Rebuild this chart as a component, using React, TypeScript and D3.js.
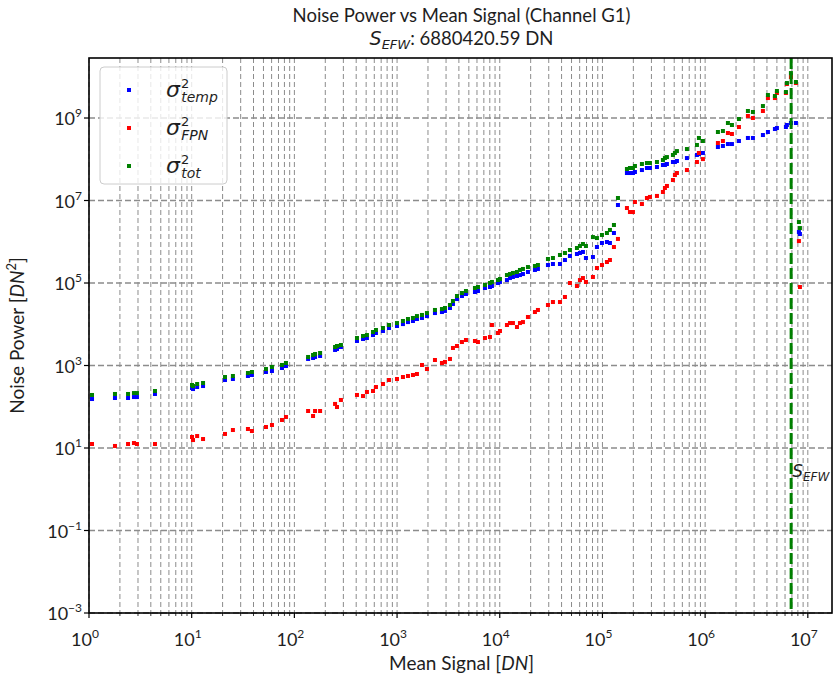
import React from "react";
import * as d3 from "d3";

// mean signal [DN]
const signal = [
  1.07, 1.79, 2.4, 2.74, 2.93, 4.39, 10.07, 10.3, 11.3, 12.9,
  21.1, 25.2, 35.3, 38.6, 52.9, 60.5, 75.7, 82.8, 136, 152,
  159, 178, 249, 260, 284, 407, 466, 509, 583, 623,
  729, 834, 998, 1141, 1277, 1428, 1562, 1748, 1955, 2339,
  2736, 2927, 3275, 3502, 3831, 4284, 4687, 5735, 6135, 7176,
  8027, 8395, 9605, 10045, 11750, 12570, 13440, 14710, 15730, 16820,
  18820, 22010, 23540, 29470, 32960, 38570, 43140, 48260, 56450, 60380,
  64580, 69070, 80800, 88400, 98900, 110600, 118300, 129400, 141600, 173200,
  185300, 198200, 207300, 242400, 271200, 290100, 339500, 388200, 406000, 424700,
  485800, 508100, 531400, 665000, 832300, 870300, 951900, 1.332e6, 1.49e6, 1.667e6,
  1.824e6, 2.134e6, 2.61e6, 2.92e6, 3.654e6, 4.088e6, 4.782e6, 5.002e6, 6.119e6, 6.258e6,
  6.847e6, 7.66e6, 8.19e6, 8.38e6,
];

// temporal noise power
const sigmaTemp = [
  154, 163, 163, 172, 172, 204, 285, 269, 301, 318,
  445, 471, 557, 589, 696, 736, 870, 973, 1440, 1520,
  1610, 1700, 2380, 2510, 2810, 3930, 4390, 4640, 5480, 6140,
  6860, 8110, 9070, 10100, 11300, 12000, 13400, 14200, 15800, 18700,
  19800, 21000, 24800, 31000, 40900, 48400, 54100, 60500, 64000, 75700,
  80000, 84600, 100000, 106000, 118000, 132000, 140000, 148000, 156000, 165000,
  185000, 207000, 219000, 273000, 289000, 289000, 361000, 452000, 505000, 534000,
  565000, 404000, 427000, 746000, 933000, 986000, 933000, 1.63e6, 7.78e6, 4.64e7,
  4.64e7, 4.64e7, 4.91e7, 5.48e7, 6.14e7, 6.14e7, 6.49e7, 7.26e7, 7.26e7, 7.67e7,
  8.58e7, 8.58e7, 9.07e7, 1.07e8, 1.27e8, 1.34e8, 1.42e8, 1.98e8, 2.1e8, 2.34e8,
  2.34e8, 2.77e8, 3.28e8, 3.28e8, 3.87e8, 4.58e8, 5.41e8, 5.72e8, 6.05e8, 6.77e8,
  7.57e8, 7.57e8, 1.72e6, 1.54e6,
];

// fixed pattern noise power
const sigmaFPN = [
  12.5, 11.2, 12.5, 13.2, 12.5, 12.5, 18.5, 15.6, 19.5, 16.5,
  21.9, 27.3, 28.9, 25.8, 32.3, 36.1, 47.8, 56.5, 78.9, 59.7,
  78.9, 78.9, 117, 98.6, 146, 193, 182, 228, 241, 301,
  356, 445, 471, 526, 557, 589, 622, 1030, 822, 1360,
  1150, 1220, 1440, 2660, 2970, 3710, 4150, 3930, 3710, 4640,
  4910, 9590, 6140, 6860, 9590, 10700, 10700, 8580, 10700, 11300,
  15000, 19800, 22200, 29300, 34600, 34600, 45800, 100000, 84600, 118000,
  132000, 106000, 140000, 231000, 273000, 323000, 361000, 746000, 1.17e6, 6.58e6,
  5.26e6, 5.26e6, 9.2e6, 8.22e6, 1.15e7, 1.22e7, 1.29e7, 1.61e7, 2.01e7, 2.25e7,
  3.14e7, 4.15e7, 4.64e7, 5.48e7, 8.58e7, 1.42e8, 1.01e8, 2.48e8, 2.77e8, 4.33e8,
  4.1e8, 6.05e8, 1.12e9, 1e9, 1.48e9, 3.05e9, 3.05e9, 4.04e9, 4.04e9, 6.67e9,
  9.86e9, 7.05e9, 1.04e6, 80000,
];

// total noise power
const sigmaTot = [
  193, 204, 204, 215, 215, 241, 337, 318, 356, 377,
  526, 557, 658, 696, 822, 920, 1030, 1150, 1610, 1800,
  1900, 2010, 2810, 2970, 3140, 4640, 5190, 5480, 6490, 7260,
  8110, 9590, 10700, 12000, 13400, 14200, 15800, 16800, 18700, 22200,
  23400, 24800, 29300, 36600, 48400, 57200, 64000, 75700, 80000, 89500,
  100000, 106000, 118000, 125000, 156000, 165000, 175000, 185000, 207000, 219000,
  244000, 258000, 273000, 382000, 404000, 478000, 534000, 631000, 706000, 789000,
  883000, 789000, 1.3e6, 1.23e6, 1.46e6, 1.63e6, 1.93e6, 2.55e6, 1.15e7, 5.8e7,
  6.14e7, 6.14e7, 6.86e7, 7.67e7, 8.11e7, 8.11e7, 8.58e7, 9.59e7, 1.07e8, 1.13e8,
  1.27e8, 1.42e8, 1.58e8, 1.77e8, 2.22e8, 3.28e8, 2.77e8, 4.58e8, 4.84e8, 7.57e8,
  6.77e8, 9.46e8, 1.48e9, 1.4e9, 1.95e9, 3.61e9, 3.41e9, 4.52e9, 4.27e9, 7.05e9,
  1.23e10, 7.46e9, 3.01e6, 2.15e6,
];

const sEFW = 6880420.59;
const xDecades = [0, 1, 2, 3, 4, 5, 6, 7];
const yDecades = [-3, -1, 1, 3, 5, 7, 9];

const W = 834;
const H = 679;
const left = 89;
const right = 832;
const top = 58;
const bottom = 613;
const font = "Lato, 'Open Sans', sans-serif";
const mathFont = "'DejaVu Sans', sans-serif";
const ink = "#1e1e1e";

export default function App() {
  const x = d3.scaleLog().domain([1, 1.72e7]).range([left, right]);
  const y = d3.scaleLog().domain([1e-3, 2.85e10]).range([bottom, top]);

  const minorX: number[] = [];
  xDecades.forEach((d) => {
    for (let k = 2; k <= 9; k++) {
      const v = k * Math.pow(10, d);
      if (v < x.domain()[1]) minorX.push(v);
    }
  });
  const majorX = xDecades.map((d) => Math.pow(10, d));
  const majorY = yDecades.map((d) => Math.pow(10, d));

  const series = [
    { key: "temp", values: sigmaTemp, color: "#0000ff" },
    { key: "FPN", values: sigmaFPN, color: "#ff0000" },
    { key: "tot", values: sigmaTot, color: "#008000" },
  ];

  const ms = 4;
  const lx = x(sEFW);

  return (
    <div style={{ position: "absolute", left: 0, top: 0 }}>
      <svg width={W} height={H} style={{ display: "block", background: "#fff" }}>
        <defs>
          <clipPath id="plot">
            <rect x={left} y={top} width={right - left} height={bottom - top} />
          </clipPath>
        </defs>

        {/* grid */}
        <g stroke="#8c8c8c" fill="none">
          {minorX.concat(majorX).map((v, i) => (
            <line key={"gx" + i} x1={x(v)} x2={x(v)} y1={top} y2={bottom}
              strokeWidth={1} strokeDasharray="5,3" />
          ))}
          {majorY.map((v, i) => (
            <line key={"gy" + i} x1={left} x2={right} y1={y(v)} y2={y(v)}
              strokeWidth={1.5} strokeDasharray="6,3" />
          ))}
        </g>

        {/* points */}
        <g clipPath="url(#plot)">
          {series.map((s) => (
            <g key={s.key} fill={s.color}>
              {s.values.map((v, i) => (
                <rect key={i} x={x(signal[i]) - ms / 2} y={y(v) - ms / 2} width={ms} height={ms} />
              ))}
            </g>
          ))}
          <line x1={lx} x2={lx} y1={top} y2={bottom} stroke="#008000"
            strokeWidth={3} strokeDasharray="11,4" />
        </g>

        <text x={lx + 1} y={477} fontFamily={mathFont} fontStyle="italic" fontSize={17} fill={ink}>
          S<tspan fontSize={12} dy={4}>EFW</tspan>
        </text>

        {/* frame */}
        <rect x={left} y={top} width={right - left} height={bottom - top}
          fill="none" stroke="#000" strokeWidth={1.6} />

        {/* ticks */}
        <g stroke="#000">
          {majorX.map((v, i) => (
            <line key={"mx" + i} x1={x(v)} x2={x(v)} y1={bottom} y2={bottom + 5} strokeWidth={1.2} />
          ))}
          {minorX.map((v, i) => (
            <line key={"nx" + i} x1={x(v)} x2={x(v)} y1={bottom} y2={bottom + 3} strokeWidth={0.8} />
          ))}
          {majorY.map((v, i) => (
            <line key={"my" + i} x1={left - 5} x2={left} y1={y(v)} y2={y(v)} strokeWidth={1.2} />
          ))}
        </g>

        <g fontFamily={font} fontSize={18} fill={ink}>
          {xDecades.map((d) => (
            <text key={"lx" + d} x={x(Math.pow(10, d)) - 4} y={646} textAnchor="middle">
              10<tspan fontSize={12} dy={-8}>{d}</tspan>
            </text>
          ))}
          {yDecades.map((d) => (
            <text key={"ly" + d} x={left - 7} y={y(Math.pow(10, d)) + 7} textAnchor="end">
              10<tspan fontSize={12} dy={-8}>{d < 0 ? "\u2212" + -d : d}</tspan>
            </text>
          ))}
        </g>

        {/* titles */}
        <g fontFamily={font} fill={ink} textAnchor="middle">
          <text x={(left + W) / 2} y={22} fontSize={18.5}>
            Noise Power vs Mean Signal (Channel G1)
          </text>
          <text x={(left + W) / 2} y={45} fontSize={18.5}>
            <tspan fontFamily={mathFont} fontStyle="italic" fontSize={19}>S</tspan>
            <tspan fontFamily={mathFont} fontStyle="italic" fontSize={13} dy={4}>EFW</tspan>
            <tspan dy={-4}>: 6880420.59 DN</tspan>
          </text>
          <text x={(left + W) / 2} y={670} fontSize={19}>
            Mean Signal [<tspan fontStyle="italic">DN</tspan>]
          </text>
          <text transform={`translate(24,${(top + bottom) / 2}) rotate(-90)`} fontSize={19}>
            Noise Power [<tspan fontStyle="italic">DN</tspan>
            <tspan fontSize={13} dy={-8}>2</tspan><tspan dy={8}>]</tspan>
          </text>
        </g>

        {/* legend */}
        <g>
          <rect x={100} y={67} width={127} height={117} rx={4} fill="#fff" fillOpacity={0.8}
            stroke="#cccccc" strokeWidth={1} />
          {series.map((s, i) => {
            const cy = 90 + i * 38;
            return (
              <g key={"lg" + s.key}>
                <rect x={129 - ms / 2} y={cy - ms / 2} width={ms} height={ms} fill={s.color} />
                <text x={166} y={cy + 7} fontFamily={mathFont} fill={ink}>
                  <tspan fontStyle="italic" fontSize={22}>σ</tspan>
                  <tspan fontSize={13} dx={1} dy={-9}>2</tspan>
                  <tspan fontStyle="italic" fontSize={14} dx={-8} dy={14}>{s.key}</tspan>
                </text>
              </g>
            );
          })}
        </g>
      </svg>
    </div>
  );
}
